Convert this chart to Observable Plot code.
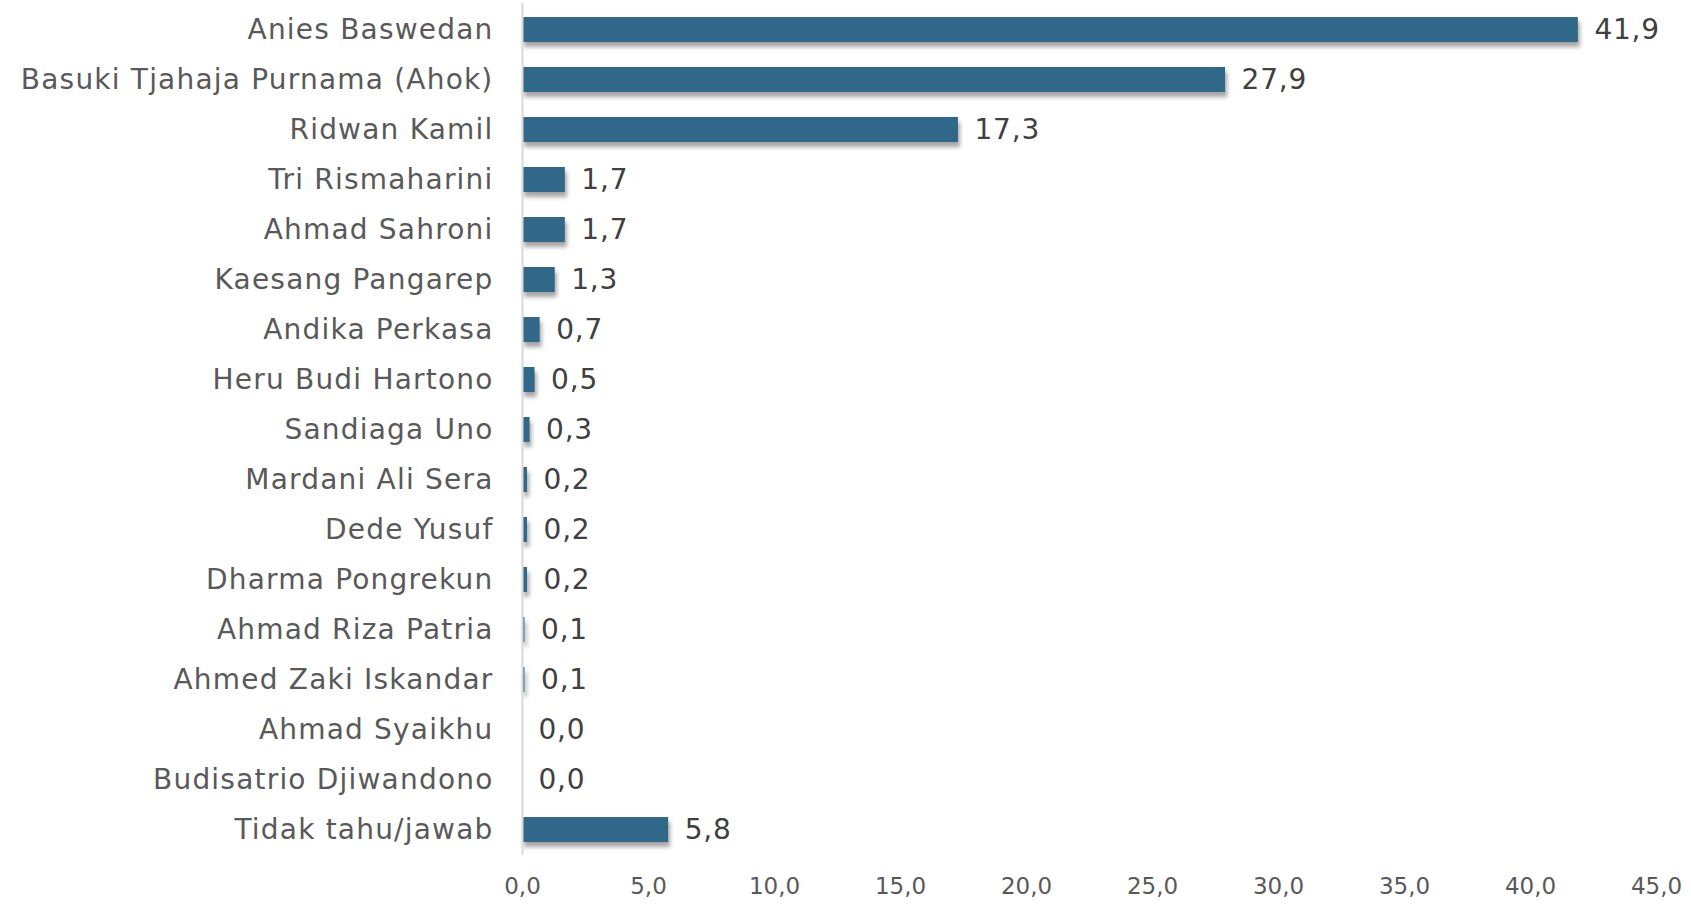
<!DOCTYPE html>
<html>
<head>
<meta charset="utf-8">
<script src="https://cdn.jsdelivr.net/npm/d3@7"></script>
<script src="https://cdn.jsdelivr.net/npm/@observablehq/plot@0.6"></script>
<style>
  html, body { margin: 0; padding: 0; background: #fff; }
  #chart svg { display: block; }
  g[aria-label="bar"] { filter: drop-shadow(2px 5px 2px rgba(0,0,0,0.35)); }
  g[aria-label="y-axis tick label"] text { letter-spacing: 1.2px; }
  g[aria-label="text"] text { letter-spacing: 0.8px; }
</style>
</head>
<body>
<div id="chart"></div>
<script>
const candidates = [
  "Anies Baswedan",
  "Basuki Tjahaja Purnama (Ahok)",
  "Ridwan Kamil",
  "Tri Rismaharini",
  "Ahmad Sahroni",
  "Kaesang Pangarep",
  "Andika Perkasa",
  "Heru Budi Hartono",
  "Sandiaga Uno",
  "Mardani Ali Sera",
  "Dede Yusuf",
  "Dharma Pongrekun",
  "Ahmad Riza Patria",
  "Ahmed Zaki Iskandar",
  "Ahmad Syaikhu",
  "Budisatrio Djiwandono",
  "Tidak tahu/jawab"
];
const values = [41.9, 27.9, 17.3, 1.7, 1.7, 1.3, 0.7, 0.5, 0.3, 0.2, 0.2, 0.2, 0.1, 0.1, 0.0, 0.0, 5.8];
const xTicks = [0, 5, 10, 15, 20, 25, 30, 35, 40, 45];

const data = candidates.map((name, i) => ({name, value: values[i]}));
const fmt = v => v.toFixed(1).replace(".", ",");
const font = "'DejaVu Sans', sans-serif";
const textColor = "#595959";

const chart = Plot.plot({
  width: 1691,
  height: 906,
  marginLeft: 522,
  marginRight: 35,
  marginTop: 3,
  marginBottom: 51,
  style: {fontFamily: font, color: textColor, background: "#fff"},
  x: {domain: [0, 45], ticks: xTicks, tickFormat: fmt, label: null},
  y: {domain: candidates, paddingInner: 0.5, paddingOuter: 0.25, label: null},
  marks: [
    Plot.axisX({ticks: xTicks, tickFormat: fmt, tickSize: 0, tickPadding: 22, fontSize: 23, fill: textColor, label: null}),
    Plot.axisY({tickSize: 0, tickPadding: 29, fontSize: 28, fill: textColor, label: null}),
    Plot.barX(data, {y: "name", x: "value", fill: "#31688a"}),
    Plot.ruleX([0], {stroke: "#d9d9d9", strokeWidth: 2}),
    Plot.text(data, {y: "name", x: "value", text: d => fmt(d.value), textAnchor: "start", dx: 16, fontSize: 28, fill: "#404040"})
  ]
});
document.getElementById("chart").appendChild(chart);
</script>
</body>
</html>
